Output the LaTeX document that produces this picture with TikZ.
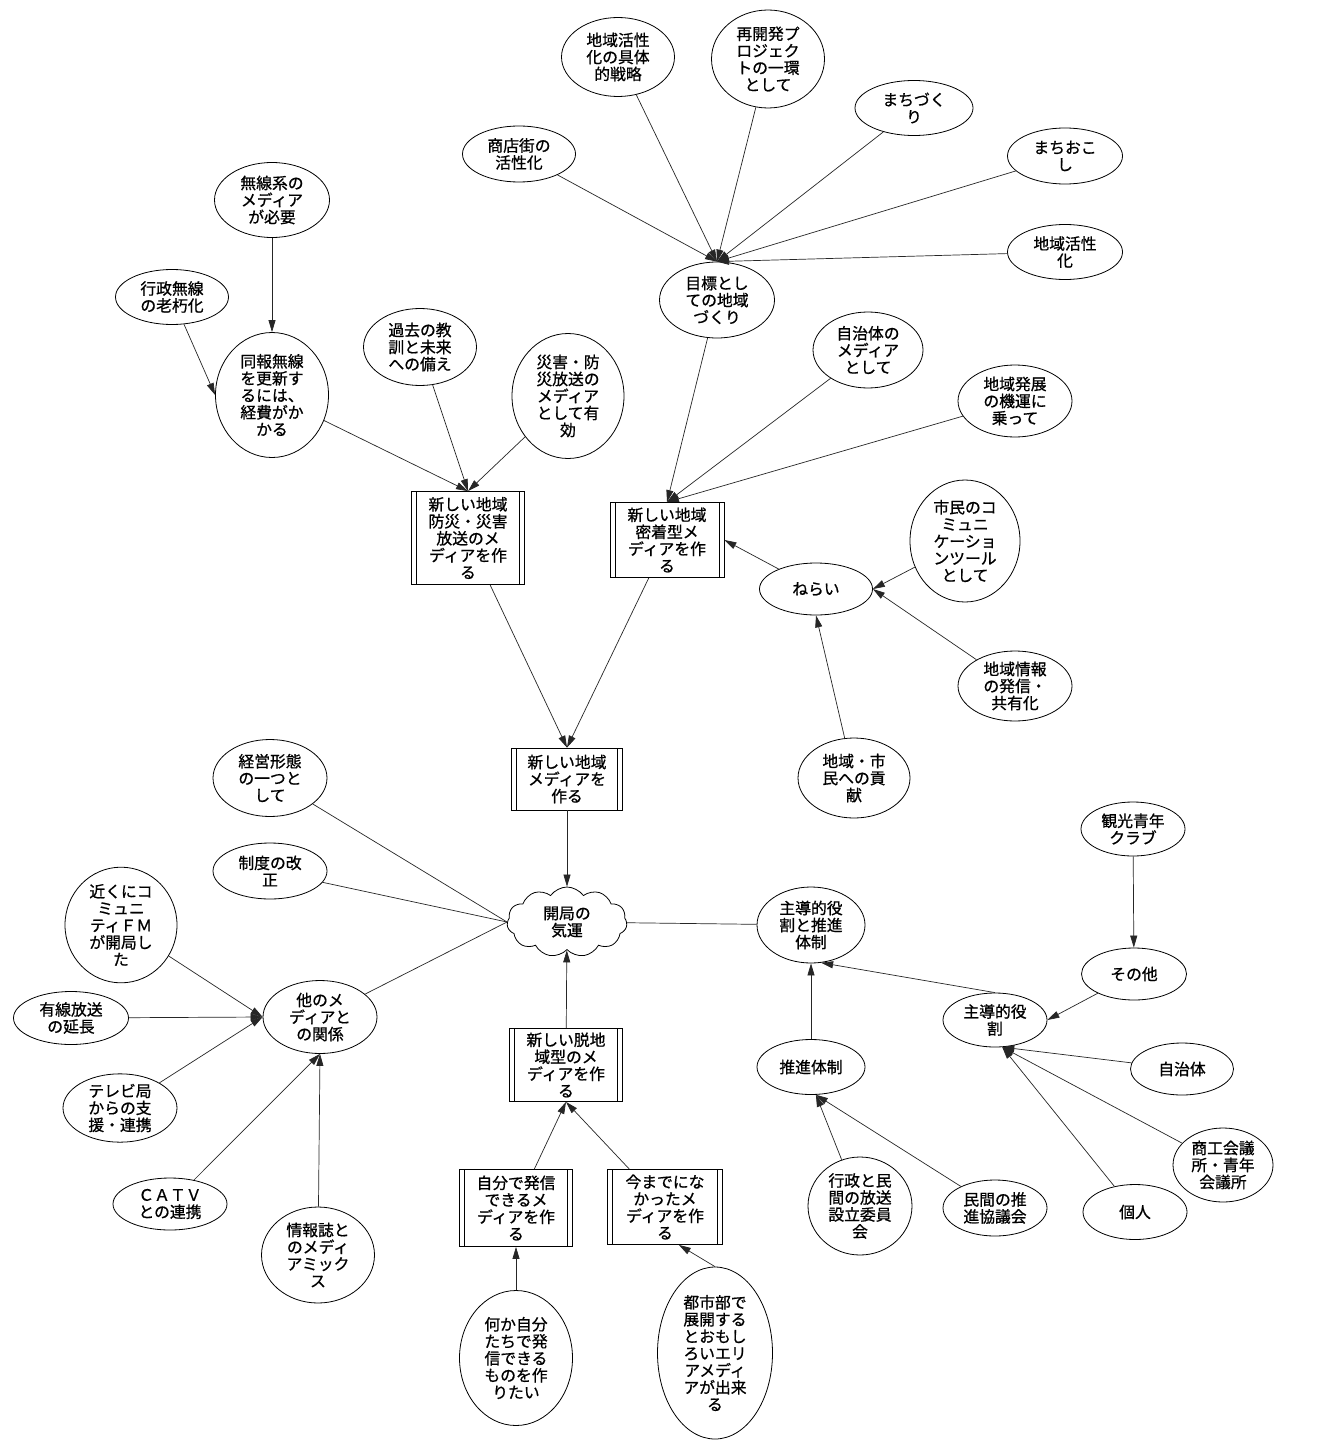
\documentclass[tikz,border=0pt]{standalone}
\usepackage{fontspec}
\setmainfont{Noto Sans CJK JP}[FakeBold=0.8]
\usetikzlibrary{shapes.geometric,shapes.symbols,arrows.meta}
\begin{document}
\begin{tikzpicture}[x=1pt,y=-1pt,
  font=\fontsize{15.8}{17}\selectfont,
  sz/.style 2 args={minimum width=#1pt,minimum height=#2pt},
  ell/.style={ellipse,draw,line width=0.8pt,inner sep=0pt,align=center},
  ppbox/.style={rectangle,draw,line width=0.8pt,inner sep=0pt,align=center,
    path picture={\draw[line width=0.8pt]
      ([xshift=5pt]path picture bounding box.north west) -- ([xshift=5pt]path picture bounding box.south west)
      ([xshift=-5pt]path picture bounding box.north east) -- ([xshift=-5pt]path picture bounding box.south east);}},
  cloudnode/.style={cloud,draw,line width=0.8pt,inner sep=0pt,align=center,cloud puffs=11,cloud puff arc=110,cloud ignores aspect},
  conn/.style={line width=0.7pt,draw=black!85},
  arr/.style={conn,-{Triangle[length=12pt,width=7pt]}}]
\fill[white] (0,0) rectangle (1330,1442);
\useasboundingbox (0,0) rectangle (1330,1442);
% top cluster
\node[ell,sz={113}{79}] (kgutai) at (618,57) {地域活性\\化の具体\\的戦略};
\node[ell,sz={113}{98}] (saikai) at (768,59) {再開発プ\\ロジェク\\トの一環\\として};
\node[ell,sz={118}{55}] (machidz) at (914,108) {まちづく\\り};
\node[ell,sz={115}{56}] (machiok) at (1065,156) {まちおこ\\し};
\node[ell,sz={115}{55}] (chkass) at (1065,252) {地域活性\\化};
\node[ell,sz={113}{56}] (shouten) at (519,154) {商店街の\\活性化};
\node[ell,sz={115}{76}] (mokuhyou) at (717,300) {目標とし\\ての地域\\づくり};
% top left cluster
\node[ell,sz={115}{75}] (musen) at (272,200) {無線系の\\メディア\\が必要};
\node[ell,sz={113}{55}] (gmusen) at (172,297) {行政無線\\の老朽化};
\node[ell,sz={113}{125}] (douhou) at (272,395) {同報無線\\を更新す\\るには、\\経費がか\\かる};
\node[ell,sz={113}{77}] (kako) at (420,347) {過去の教\\訓と未来\\への備え};
\node[ell,sz={112}{125}] (saigai) at (568,396) {災害・防\\災放送の\\メディア\\として有\\効};
\node[ppbox,sz={113}{93}] (box1) at (468,538) {新しい地域\\防災・災害\\放送のメ\\ディアを作\\る};
\node[ppbox,sz={114}{75}] (box2) at (667,540) {新しい地域\\密着型メ\\ディアを作\\る};
% right middle
\node[ell,sz={110}{76}] (jmedia) at (868,350) {自治体の\\メディア\\として};
\node[ell,sz={114}{72}] (hatten) at (1015,401) {地域発展\\の機運に\\乗って};
\node[ell,sz={113}{52}] (nerai) at (816,589) {ねらい};
\node[ell,sz={110}{122}] (scomm) at (965,541) {市民のコ\\ミュニ\\ケーショ\\ンツール\\として};
\node[ell,sz={114}{70}] (cjouhou) at (1015,686) {地域情報\\の発信・\\共有化};
\node[ell,sz={112}{80}] (kouken) at (854,778) {地域・市\\民への貢\\献};
% centre
\node[ppbox,sz={111}{62}] (box3) at (567,779) {新しい地域\\メディアを\\作る};
\node[cloudnode,sz={120}{70}] (kaikyoku) at (567,922) {開局の\\気運};
\node[ell,sz={114}{77}] (keiei) at (270,778) {経営形態\\の一つと\\して};
\node[ell,sz={114}{56}] (seido) at (270,871) {制度の改\\正};
% left bottom
\node[ell,sz={112}{115}] (chikaku) at (121,925) {近くにコ\\ミュニ\\ティＦＭ\\が開局し\\た};
\node[ell,sz={115}{53}] (yuusen) at (71,1018) {有線放送\\の延長};
\node[ell,sz={114}{73}] (hoka) at (320,1017) {他のメ\\ディアと\\の関係};
\node[ell,sz={114}{67}] (terebi) at (120,1108) {テレビ局\\からの支\\援・連携};
\node[ell,sz={114}{52}] (catv) at (170,1204) {ＣＡＴＶ\\との連携};
\node[ell,sz={113}{96}] (jshi) at (318,1255) {情報誌と\\のメディ\\アミック\\ス};
% bottom centre
\node[ppbox,sz={113}{73}] (box4) at (566,1065) {新しい脱地\\域型のメ\\ディアを作\\る};
\node[ppbox,sz={113}{77}] (box5) at (516,1208) {自分で発信\\できるメ\\ディアを作\\る};
\node[ppbox,sz={115}{75}] (box6) at (665,1207) {今までにな\\かったメ\\ディアを作\\る};
\node[ell,sz={113}{135}] (nanika) at (516,1358) {何か自分\\たちで発\\信できる\\ものを作\\りたい};
\node[ell,sz={115}{172}] (toshibu) at (715,1353) {都市部で\\展開する\\とおもし\\ろいエリ\\アメディ\\アが出来\\る};
% right bottom
\node[ell,sz={108}{76}] (shsui) at (811,925) {主導的役\\割と推進\\体制};
\node[ell,sz={108}{55}] (suishin) at (811,1067) {推進体制};
\node[ell,sz={104}{54}] (shudou) at (995,1020) {主導的役\\割};
\node[ell,sz={104}{54}] (kankou) at (1133,829) {観光青年\\クラブ};
\node[ell,sz={105}{52}] (sonota) at (1134,974) {その他};
\node[ell,sz={103}{52}] (jichitai) at (1182,1069) {自治体};
\node[ell,sz={100}{74}] (shoukou) at (1223,1165) {商工会議\\所・青年\\会議所};
\node[ell,sz={104}{55}] (kojin) at (1135,1212) {個人};
\node[ell,sz={104}{98}] (gminkan) at (860,1206) {行政と民\\間の放送\\設立委員\\会};
\node[ell,sz={104}{56}] (minkan) at (995,1208) {民間の推\\進協議会};
% connectors: top fan
\foreach \s in {shouten,kgutai,saikai,machidz,machiok,chkass}
  \draw[arr] (\s) -- (mokuhyou.north);
\draw[arr] (musen) -- (douhou);
\draw[arr] (gmusen) -- (douhou.west);
\foreach \s in {douhou,kako,saigai}
  \draw[arr] (\s) -- (box1.north);
\foreach \s in {mokuhyou,jmedia,hatten}
  \draw[arr] (\s) -- (box2.north);
\draw[arr] (scomm) -- (nerai.east);
\draw[arr] (cjouhou) -- (nerai.east);
\draw[arr] (kouken) -- (nerai.south);
\draw[arr] (nerai) -- (box2.east);
\draw[arr] (box1) -- (box3.north);
\draw[arr] (box2) -- (box3.north);
\draw[arr] (box3) -- (kaikyoku);
\draw[conn] (keiei) -- (kaikyoku.west);
\draw[conn] (seido) -- (kaikyoku.west);
\draw[conn] (hoka) -- (kaikyoku.west);
\foreach \s in {chikaku,yuusen,terebi}
  \draw[arr] (\s) -- (hoka.west);
\draw[arr] (catv) -- (hoka.south);
\draw[arr] (jshi) -- (hoka.south);
\draw[arr] (box4) -- (kaikyoku);
\draw[arr] (box5) -- (box4.south);
\draw[arr] (box6) -- (box4.south);
\draw[arr] (nanika) -- (box5);
\draw[arr] (toshibu.north) -- (box6.-70);
\draw[conn] (kaikyoku) -- (shsui);
\draw[arr] (suishin) -- (shsui);
\draw[arr] (shudou.north) -- (shsui.-75);
\draw[arr] (kankou) -- (sonota);
\draw[arr] (sonota) -- (shudou.east);
\foreach \s in {jichitai,shoukou,kojin}
  \draw[arr] (\s) -- (shudou.-75);
\draw[arr] (gminkan) -- (suishin.-80);
\draw[arr] (minkan) -- (suishin.-80);
\end{tikzpicture}
\end{document}
